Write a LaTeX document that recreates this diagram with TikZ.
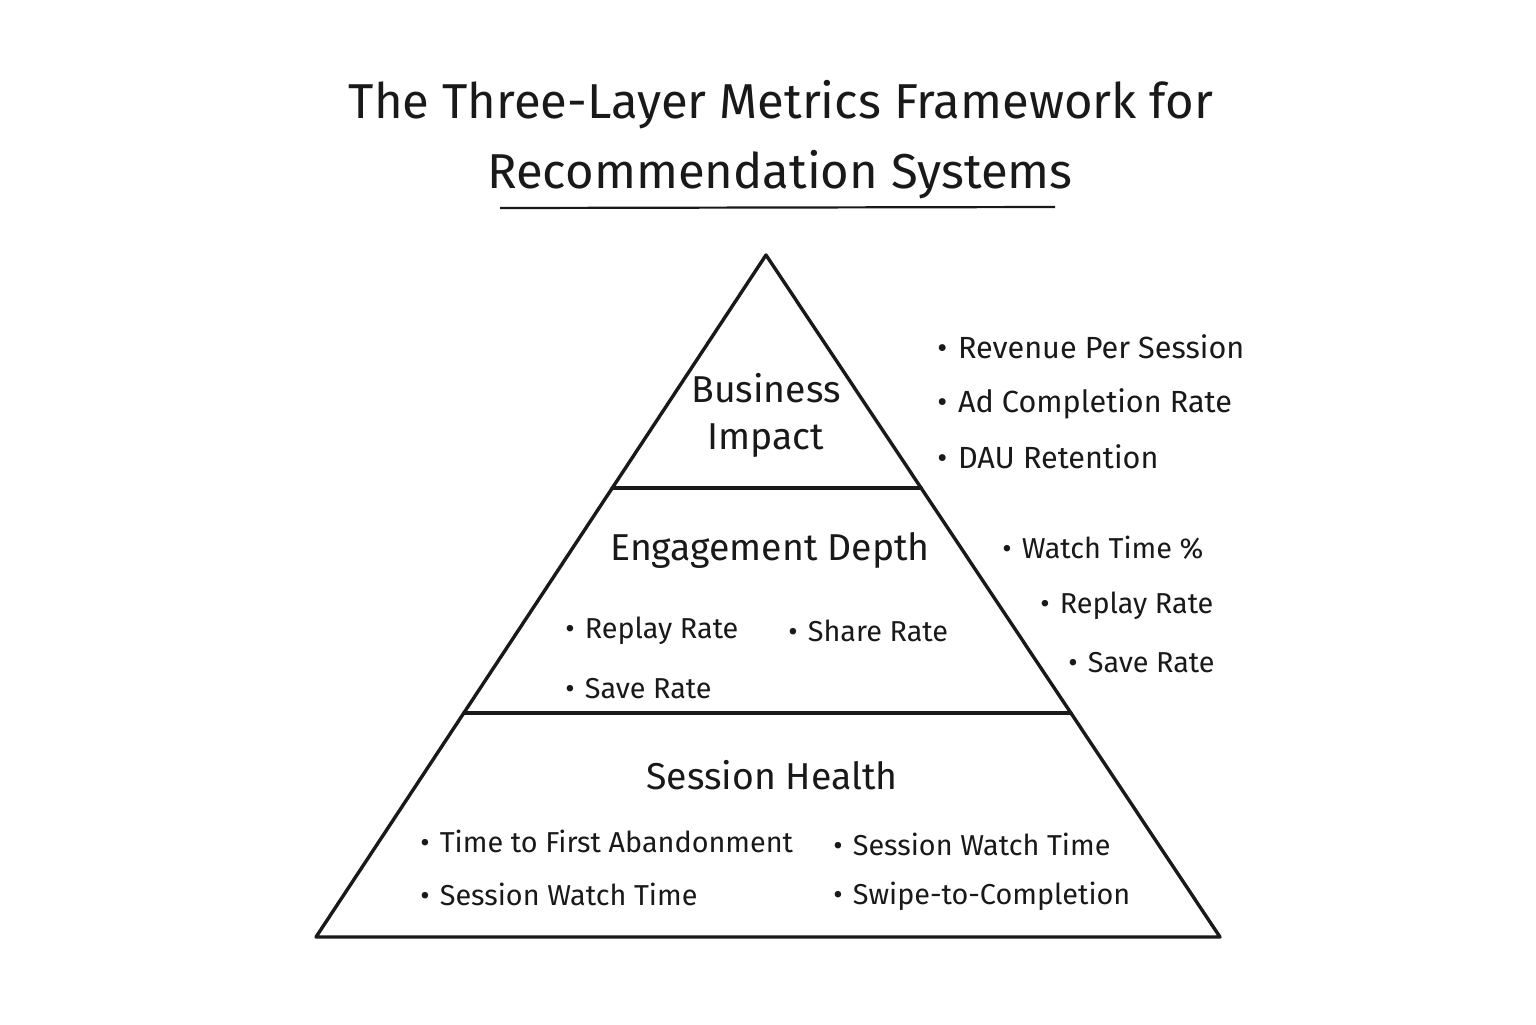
\documentclass[tikz,border=0pt]{standalone}
\usepackage{fontspec}
\setmainfont{Fira Sans}
\usetikzlibrary{calc,intersections}
\newcommand{\bt}{•\hspace{0.35em}}
\begin{document}
\begin{tikzpicture}[x=0.5pt,y=-0.5pt,
  edge/.style={line width=1.7pt,line join=round,line cap=round,black!90},
  titletext/.style={font=\fontsize{24.5}{28}\selectfont,text=black!90,inner sep=0pt},
  layertext/.style={font=\fontsize{18.7}{24}\selectfont,text=black!90,inner sep=0pt,align=center},
  bul/.style={font=\fontsize{15.3}{18}\selectfont,text=black!90,inner sep=0pt,anchor=west},
  ibul/.style={font=\fontsize{14.4}{17}\selectfont,text=black!90,inner sep=0pt,anchor=west}]
\useasboundingbox (0,0) rectangle (1536,1024);
\fill[white] (0,0) rectangle (1536,1024);
% title
\node[titletext] (t1) at (781,105) {The Three-Layer Metrics Framework for};
\node[titletext] (t2) at (780,175) {Recommendation Systems};
\draw[line width=1.1pt,black!90] (500,208) -- (1055,207);
% pyramid
\coordinate (apex) at (766,255);
\coordinate (bl) at (316,937);
\coordinate (br) at (1220,937);
\draw[edge] (apex) -- (br) -- (bl) -- cycle;
\path[name path=le] (apex) -- (bl);
\path[name path=re] (apex) -- (br);
\path[name path=h1] (400,488) -- (1100,488);
\path[name path=h2] (300,713) -- (1200,713);
\path[name intersections={of=le and h1,by=l1}];
\path[name intersections={of=re and h1,by=r1}];
\path[name intersections={of=le and h2,by=l2}];
\path[name intersections={of=re and h2,by=r2}];
\draw[edge] (l1) -- (r1);
\draw[edge] (l2) -- (r2);
% layer labels
\node[layertext] (bi1) at (766,388) {Business};
\node[layertext] (bi2) at (766,441) {Impact};
\node[layertext] (ed) at (770,550) {Engagement Depth};
\node[layertext] (sh) at (772,775) {Session Health};
% inner bullets
\node[ibul] (e1) at (565,631) {\bt Replay Rate};
\node[ibul] (e2) at (788,631) {\bt Share Rate};
\node[ibul] (e3) at (565,689) {\bt Save Rate};
\node[ibul] (s1) at (420,841) {\bt Time to First Abandonment};
\node[ibul] (s2) at (420,894) {\bt Session Watch Time};
\node[ibul] (s3) at (833,844) {\bt Session Watch Time};
\node[ibul] (s4) at (833,896) {\bt Swipe-to-Completion};
% right bullets
\node[bul] (r1t) at (937,347) {\bt Revenue Per Session};
\node[bul] (r2t) at (937,404) {\bt Ad Completion Rate};
\node[bul] (r3t) at (937,457) {\bt DAU Retention};
\node[ibul] (w1) at (1002,548) {\bt Watch Time \%};
\node[ibul] (w2) at (1040,606) {\bt Replay Rate};
\node[ibul] (w3) at (1068,663) {\bt Save Rate};
\end{tikzpicture}
\end{document}
